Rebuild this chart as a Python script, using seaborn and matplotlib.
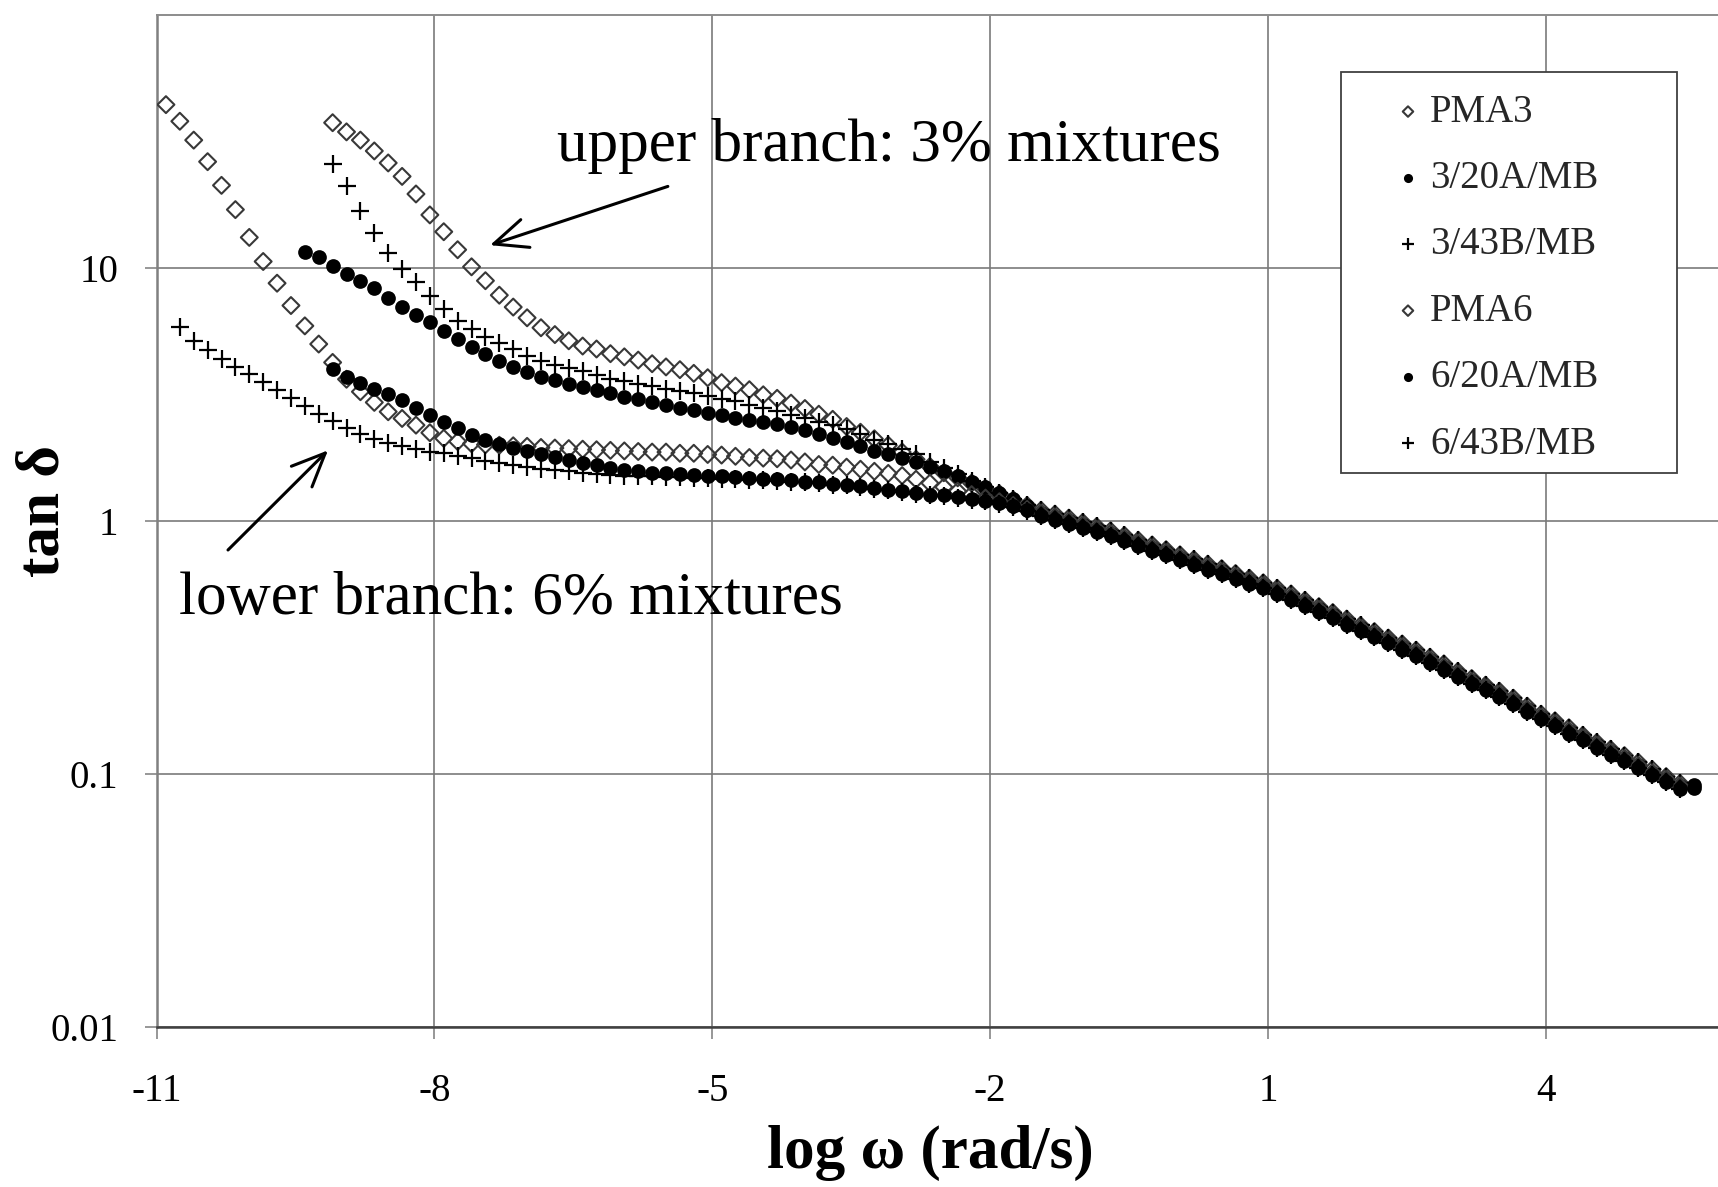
import matplotlib
matplotlib.use("Agg")
import matplotlib.pyplot as plt
from matplotlib.patches import Rectangle
from matplotlib.ticker import FixedLocator, FixedFormatter, NullLocator
import pandas as pd
import seaborn as sns

# Reduced angular frequency grid, log10(omega) in rad/s
LOG_W = [
    -10.9, -10.75, -10.6, -10.45, -10.3, -10.15, -10.0, -9.85, -9.7, -9.55,
    -9.4, -9.25, -9.1, -8.95, -8.8, -8.65, -8.5, -8.35, -8.2, -8.05,
    -7.9, -7.75, -7.6, -7.45, -7.3, -7.15, -7.0, -6.85, -6.7, -6.55,
    -6.4, -6.25, -6.1, -5.95, -5.8, -5.65, -5.5, -5.35, -5.2, -5.05,
    -4.9, -4.75, -4.6, -4.45, -4.3, -4.15, -4.0, -3.85, -3.7, -3.55,
    -3.4, -3.25, -3.1, -2.95, -2.8, -2.65, -2.5, -2.35, -2.2, -2.05,
    -1.9, -1.75, -1.6, -1.45, -1.3, -1.15, -1.0, -0.85, -0.7, -0.55,
    -0.4, -0.25, -0.1, 0.05, 0.2, 0.35, 0.5, 0.65, 0.8, 0.95,
    1.1, 1.25, 1.4, 1.55, 1.7, 1.85, 2.0, 2.15, 2.3, 2.45,
    2.6, 2.75, 2.9, 3.05, 3.2, 3.35, 3.5, 3.65, 3.8, 3.95,
    4.1, 4.25, 4.4, 4.55, 4.7, 4.85, 5.0, 5.15, 5.3, 5.45,
    5.6,
]

# tan(delta) on the low-frequency side, where the curves are distinct
PMA3_LOW = [
    37.5, 34.5, 32.0, 29.0, 26.0, 23.0, 19.6, 16.2, 13.9, 11.8,
    10.1, 8.9, 7.8, 7.0, 6.35, 5.80, 5.45, 5.15, 4.91, 4.78,
    4.58, 4.45, 4.32, 4.18, 4.06, 3.96, 3.83, 3.68, 3.52, 3.41,
    3.30, 3.15, 3.05, 2.92, 2.78, 2.64, 2.52, 2.36, 2.24, 2.11,
    1.99, 1.87, 1.75, 1.64, 1.55, 1.48, 1.41, 1.34, 1.28, 1.21, 1.15,
]
MIX_3_20A_LOW = [
    11.6, 11.0, 10.2, 9.5, 8.9, 8.3, 7.6, 7.0, 6.5, 6.1,
    5.65, 5.25, 4.88, 4.55, 4.30, 4.05, 3.88, 3.72, 3.60, 3.49,
    3.39, 3.29, 3.19, 3.10, 3.03, 2.95, 2.87, 2.80, 2.74, 2.66,
    2.61, 2.55, 2.51, 2.46, 2.41, 2.35, 2.28, 2.21, 2.13, 2.05,
    1.97, 1.89, 1.83, 1.77, 1.71, 1.64, 1.57, 1.50, 1.43, 1.36,
    1.29, 1.22, 1.15,
]
MIX_3_43B_LOW = [
    25.7, 21.0, 16.8, 13.7, 11.5, 9.9, 8.8, 7.75, 6.9, 6.15,
    5.71, 5.35, 5.04, 4.80, 4.47, 4.28, 4.14, 4.02, 3.90, 3.78,
    3.64, 3.56, 3.46, 3.40, 3.33, 3.25, 3.19, 3.11, 3.04, 2.97,
    2.88, 2.79, 2.71, 2.63, 2.55, 2.47, 2.39, 2.30, 2.20, 2.09,
    2.01, 1.92, 1.83, 1.71, 1.62, 1.53, 1.44, 1.36, 1.29, 1.22, 1.16,
]
PMA6_LOW = [
    44.2, 38.0, 32.0, 26.3, 21.2, 17.0, 13.2, 10.6, 8.7, 7.1,
    5.9, 5.0, 4.23, 3.63, 3.24, 2.94, 2.70, 2.54, 2.39, 2.23,
    2.12, 2.06, 2.02, 2.00, 1.99, 1.98, 1.97, 1.95, 1.94, 1.93,
    1.92, 1.91, 1.90, 1.89, 1.88, 1.87, 1.87, 1.85, 1.85, 1.83,
    1.82, 1.80, 1.78, 1.77, 1.76, 1.74, 1.71, 1.67, 1.66, 1.63,
    1.60, 1.57, 1.54, 1.51, 1.46, 1.41, 1.36, 1.31, 1.27, 1.23,
    1.19, 1.15, 1.11,
]
MIX_6_20A_LOW = [
    3.98, 3.72, 3.52, 3.33, 3.16, 3.01, 2.80, 2.62, 2.45, 2.33,
    2.19, 2.09, 2.01, 1.94, 1.89, 1.83, 1.79, 1.74, 1.70, 1.66,
    1.62, 1.59, 1.57, 1.55, 1.54, 1.53, 1.52, 1.51, 1.50, 1.49,
    1.48, 1.47, 1.46, 1.45, 1.43, 1.42, 1.40, 1.39, 1.37, 1.35,
    1.33, 1.31, 1.29, 1.27, 1.26, 1.24, 1.22, 1.20, 1.18, 1.14, 1.10,
]
MIX_6_43B_LOW = [
    5.85, 5.15, 4.72, 4.36, 4.05, 3.80, 3.53, 3.28, 3.05,
    2.84, 2.65, 2.48, 2.32, 2.20, 2.10, 2.03, 1.97, 1.92, 1.88,
    1.85, 1.81, 1.77, 1.73, 1.70, 1.67, 1.64, 1.61, 1.59, 1.57,
    1.55, 1.53, 1.52, 1.51, 1.50, 1.50, 1.49, 1.49, 1.48, 1.48,
    1.47, 1.46, 1.45, 1.45, 1.44, 1.43, 1.42, 1.41, 1.39, 1.38,
    1.36, 1.34, 1.32, 1.30, 1.28, 1.26, 1.25, 1.23, 1.21, 1.20,
    1.17, 1.13, 1.09,
]

# tan(delta) on the high-frequency side, where all six curves merge
HIGH_3 = [
    1.101, 1.063, 1.025, 0.986, 0.950, 0.913, 0.876, 0.838, 0.803, 0.769,
    0.734, 0.704, 0.674, 0.647, 0.619, 0.593, 0.569, 0.541, 0.514, 0.485,
    0.458, 0.434, 0.409, 0.386, 0.365, 0.344, 0.326, 0.308, 0.289, 0.272,
    0.254, 0.238, 0.224, 0.212, 0.199, 0.185, 0.172, 0.162, 0.152, 0.142,
    0.133, 0.125, 0.118, 0.111, 0.104, 0.0975, 0.0917,
]
HIGH_MID = [
    1.074, 1.037, 1.000, 0.962, 0.927, 0.891, 0.855, 0.818, 0.783, 0.750,
    0.716, 0.687, 0.658, 0.631, 0.604, 0.579, 0.555, 0.528, 0.501, 0.473,
    0.447, 0.423, 0.399, 0.377, 0.356, 0.336, 0.318, 0.300, 0.282, 0.265,
    0.248, 0.232, 0.219, 0.207, 0.194, 0.180, 0.168, 0.158, 0.148, 0.139,
    0.130, 0.122, 0.115, 0.108, 0.101, 0.0951, 0.0895, 0.0902,
]
HIGH_6 = [
    1.047, 1.011, 0.975, 0.938, 0.904, 0.869, 0.834, 0.798, 0.763, 0.731,
    0.698, 0.670, 0.642, 0.615, 0.589, 0.565, 0.541, 0.515, 0.488, 0.461,
    0.436, 0.412, 0.389, 0.368, 0.347, 0.328, 0.310, 0.293, 0.275, 0.258,
    0.242, 0.226, 0.214, 0.202, 0.189, 0.176, 0.164, 0.154, 0.144, 0.136,
    0.127, 0.119, 0.112, 0.105, 0.0985, 0.0927, 0.0873, 0.0880,
]

# (label, index of first frequency in LOG_W, tan delta values)
SERIES = [
    ("PMA3", 12, PMA3_LOW + HIGH_3),
    ("3/20A/MB", 10, MIX_3_20A_LOW + HIGH_MID),
    ("3/43B/MB", 12, MIX_3_43B_LOW + HIGH_3),
    ("PMA6", 0, PMA6_LOW + HIGH_MID[:-1]),
    ("6/20A/MB", 12, MIX_6_20A_LOW + HIGH_6),
    ("6/43B/MB", 1, MIX_6_43B_LOW + HIGH_6[:-1]),
]

X_TICKS = [-11, -8, -5, -2, 1, 4]
Y_TICKS = [0.01, 0.1, 1, 10]
Y_TICK_LABELS = ["0.01", "0.1", "1", "10"]

frames = []
for name, first, vals in SERIES:
    xs = LOG_W[first:first + len(vals)]
    frames.append(pd.DataFrame({"log_w": xs, "tan_d": vals[:len(xs)], "sample": name}))
data = pd.concat(frames, ignore_index=True)

sns.set_theme(style="white")
plt.rcParams["font.family"] = ["Liberation Serif", "DejaVu Serif"]
plt.rcParams["axes.unicode_minus"] = False

fig = plt.figure(figsize=(17.18, 11.87), dpi=100)
ax = fig.add_axes([0.0912, 0.135, 0.9088, 0.8524])

diamond = dict(marker="D", s=74, facecolor="none", color="#383838",
               edgecolor="#383838", linewidth=1.5)
dot = dict(marker="o", s=112, color="black", edgecolor="black", linewidth=0)
cross = dict(marker="+", s=185, color="black", linewidth=1.6)
styles = {
    "PMA3": diamond, "3/20A/MB": dot, "3/43B/MB": cross,
    "PMA6": diamond, "6/20A/MB": dot, "6/43B/MB": cross,
}

for i, (name, _, _) in enumerate(SERIES):
    sub = data[data["sample"] == name]
    sns.scatterplot(x=sub["log_w"], y=sub["tan_d"], ax=ax, label=name,
                    zorder=3 + i, **styles[name])

ax.set_yscale("log")
ax.set_xlim(-11, 5.86)
ax.set_ylim(0.01, 100)
ax.xaxis.set_major_locator(FixedLocator(X_TICKS))
ax.xaxis.set_major_formatter(FixedFormatter([str(t) for t in X_TICKS]))
ax.yaxis.set_major_locator(FixedLocator(Y_TICKS))
ax.yaxis.set_major_formatter(FixedFormatter(Y_TICK_LABELS))
ax.yaxis.set_minor_locator(NullLocator())
ax.xaxis.set_minor_locator(NullLocator())

ax.set_axisbelow(True)
ax.grid(True, which="major", color="#7a7a7a", linewidth=1.2)
ax.tick_params(axis="both", which="major", direction="out", length=8.5,
               width=1.1, color="#7a7a7a", labelsize=28, labelcolor="black")
ax.tick_params(axis="x", pad=25, bottom=True)
ax.tick_params(axis="y", pad=19, left=True)

for side in ("left", "top", "bottom"):
    ax.spines[side].set_visible(True)
ax.spines["right"].set_visible(False)
ax.spines["left"].set_color("#808080")
ax.spines["left"].set_linewidth(1.8)
ax.spines["top"].set_color("#8c8c8c")
ax.spines["top"].set_linewidth(1.4)
ax.spines["bottom"].set_color("#404040")
ax.spines["bottom"].set_linewidth(1.8)

ax.set_xlabel("log ω (rad/s)", fontsize=44, fontweight="bold", color="black")
ax.set_ylabel("tan δ", fontsize=44, fontweight="bold", color="black")
ax.xaxis.set_label_coords(0.4955, -0.097)
ax.yaxis.set_label_coords(-0.0545, 0.51)

# Branch annotations
arrow_kw = dict(arrowstyle="->,head_length=0.8,head_width=0.35", lw=2.2,
                color="black", mutation_scale=30, shrinkA=0, shrinkB=0)
ax.text(-6.68, 26.5, "upper branch: 3% mixtures", fontsize=44, ha="left",
        va="baseline", color="black")
ax.annotate("", xy=(-7.40, 12.3), xytext=(-5.48, 21.0), arrowprops=arrow_kw)
ax.text(-10.76, 0.430, "lower branch: 6% mixtures", fontsize=44, ha="left",
        va="baseline", color="black")
ax.annotate("", xy=(-9.15, 1.90), xytext=(-10.23, 0.767), arrowprops=arrow_kw)

# Legend in a white box
box = Rectangle((0.7806, 0.6015), 0.1956, 0.3378, transform=fig.transFigure,
                facecolor="white", edgecolor="#404040", linewidth=1.3,
                zorder=20, clip_on=False)
ax.add_patch(box)
handles, labels = ax.get_legend_handles_labels()
leg = ax.legend(handles, labels, loc="upper left",
                bbox_to_anchor=(0.8105, 0.921), bbox_transform=fig.transFigure,
                frameon=False, fontsize=28, borderpad=0, borderaxespad=0,
                handlelength=0.8, handletextpad=0.17, labelspacing=0.755,
                markerscale=0.62, scatterpoints=1)
leg.set_zorder(30)

fig.savefig("out.png", dpi=100)
